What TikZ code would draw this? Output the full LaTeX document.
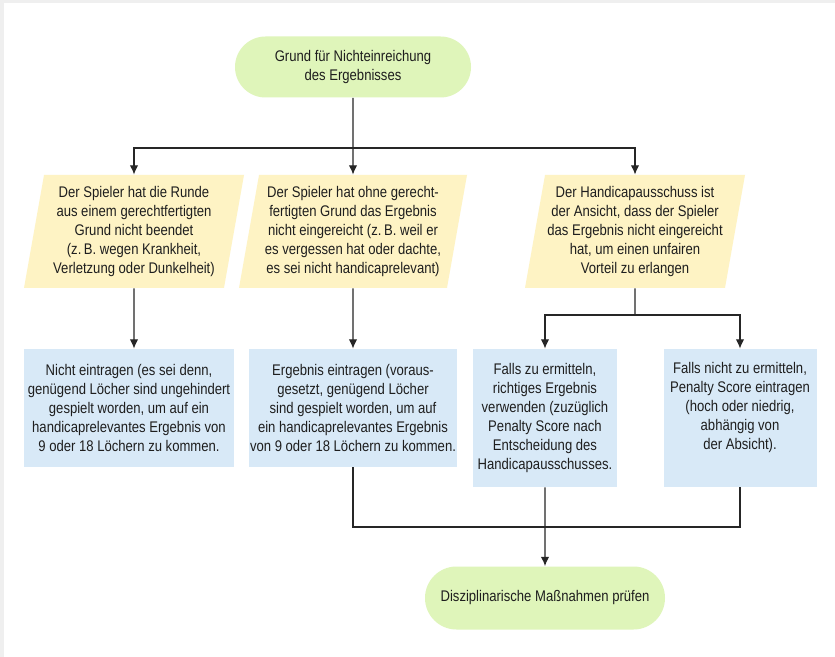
\documentclass[tikz,border=0pt]{standalone}
\usepackage{fontspec}
\setmainfont{Liberation Sans}[FakeStretch=0.85]
\usetikzlibrary{shapes.geometric,shapes.misc,arrows.meta}
\definecolor{gruen}{RGB}{223,245,186}
\definecolor{gelb}{RGB}{254,243,196}
\definecolor{blau}{RGB}{216,233,247}
\definecolor{rand}{RGB}{239,239,239}
\definecolor{schrift}{RGB}{30,30,30}
\tikzset{
  every node/.style={text=schrift,font=\fontsize{7.7}{9.5}\selectfont,align=center,inner sep=0pt},
  terminal/.style={shape=rounded rectangle,fill=gruen,minimum height=30.5pt},
  frage/.style={shape=trapezium,trapezium left angle=77.5,trapezium right angle=102.5,
    trapezium stretches body,fill=gelb,minimum width=110pt,minimum height=56.5pt},
  aktion/.style={shape=rectangle,fill=blau},
  pfeil/.style={draw=black!85,line width=0.6pt,-{Latex[length=4.6pt,width=4.2pt]}},
  linie/.style={draw=black!85,line width=0.6pt}
}

\begin{document}
\begin{tikzpicture}[x=0.5pt,y=-0.5pt]
\useasboundingbox (0,0) rectangle (835,657);
\fill[rand] (0,0) rectangle (835,657);
\fill[white] (4,3) rectangle (835,657);
\node (start) [terminal,minimum width=118pt] at (353,67) {Grund für Nichteinreichung\\des Ergebnisses};
\node (p1) [frage] at (134,231.5) {Der Spieler hat die Runde\\aus einem gerechtfertigten\\Grund nicht beendet\\(z.\,B. wegen Krankheit,\\Verletzung oder Dunkelheit)};
\node (p2) [frage,minimum width=114pt] at (353,231.5) {Der Spieler hat ohne gerecht-\\fertigten Grund das Ergebnis\\nicht eingereicht (z.\,B. weil er\\es vergessen hat oder dachte,\\es sei nicht handicaprelevant)};
\node (p3) [frage] at (635,231.5) {Der Handicapausschuss ist\\der Ansicht, dass der Spieler\\das Ergebnis nicht eingereicht\\hat, um einen unfairen\\Vorteil zu erlangen};
\node (b1) [aktion,minimum width=105pt,minimum height=59pt] at (129,408) {Nicht eintragen (es sei denn,\\genügend Löcher sind ungehindert\\gespielt worden, um auf ein\\handicaprelevantes Ergebnis von\\9 oder 18 Löchern zu kommen.};
\node (b2) [aktion,minimum width=104pt,minimum height=59pt] at (353,408) {Ergebnis eintragen (voraus-\\gesetzt, genügend Löcher\\sind gespielt worden, um auf\\ein handicaprelevantes Ergebnis\\von 9 oder 18 Löchern zu kommen.};
\node (b3) [aktion,minimum width=72pt,minimum height=69pt] at (545,418) {Falls zu ermitteln,\\richtiges Ergebnis\\verwenden (zuzüglich\\Penalty Score nach\\Entscheidung des\\Handicapausschusses.};
\node (b4) [aktion,minimum width=76.5pt,minimum height=69pt,text depth=12pt] at (740,418) {Falls nicht zu ermitteln,\\Penalty Score eintragen\\(hoch oder niedrig,\\abhängig von\\der Absicht).};
\node (ende) [terminal,minimum width=120pt,minimum height=31.5pt] at (545,598) {Disziplinarische Maßnahmen prüfen};
\coordinate (s1) at (353,148);
\coordinate (s3) at (635,315);
\coordinate (s4) at (545,527);
\draw[linie] (start) -- (s1);
\draw[pfeil] (s1) -| (p1);
\draw[pfeil] (s1) -| (p3);
\draw[pfeil] (s1) -- (p2);
\draw[pfeil] (p1) -- (p1 |- b1.north);
\draw[pfeil] (p2) -- (b2);
\draw[linie] (p3) -- (s3);
\draw[pfeil] (s3) -| (b3);
\draw[pfeil] (s3) -| (b4);
\draw[linie] (b2) |- (s4) -| (b4);
\draw[pfeil] (b3) -- (ende);
\end{tikzpicture}
\end{document}
